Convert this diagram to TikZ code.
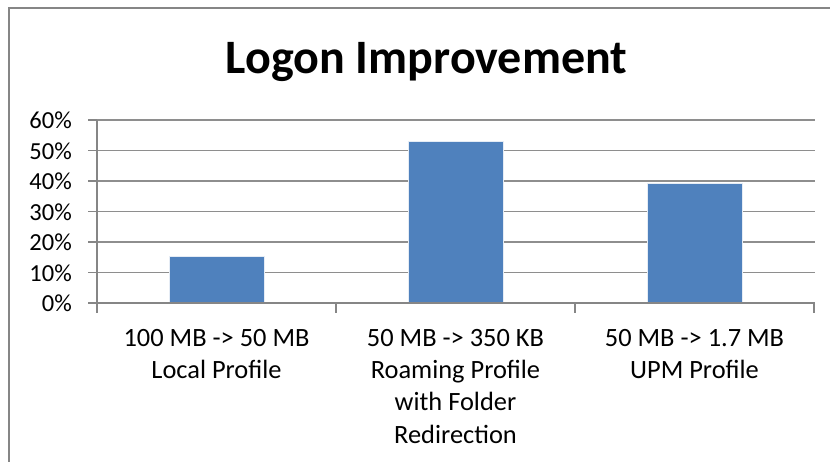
\documentclass[tikz,border=0pt]{standalone}
\usepackage{fontspec}
\setmainfont{Carlito}
\definecolor{framegray}{HTML}{868686}
\definecolor{gridgray}{HTML}{8E8E8E}
\definecolor{barblue}{HTML}{4F81BD}
\begin{document}
\begin{tikzpicture}[x=1pt,y=-1pt,
  ticklabel/.style={anchor=base east,inner sep=0pt,font=\fontsize{24.5}{29}\selectfont},
  catlabel/.style={anchor=north,inner sep=0pt,align=center,font=\fontsize{26.4}{32.3}\selectfont},
  gridline/.style={draw=gridgray,line width=1.4pt},
  axisline/.style={draw=framegray,line width=1.4pt},
  barstyle/.style={fill=barblue,draw=white!85!barblue,line width=0.6pt}]
\useasboundingbox (0,0) rectangle (830,462);
% outer frame
\draw[framegray,line width=2pt] (9,8) rectangle (860,490);
% title
\node[anchor=base,inner sep=0pt,font=\fontsize{48}{54}\selectfont\bfseries] (title) at (426.5,74) {Logon Improvement};
% grid and tick labels
\foreach \v/\n in {10/a,20/b,30/c,40/d,50/e,60/f}{
  \coordinate (gl\n) at (97,{303-3.05*\v});
  \coordinate (gr\n) at (815,{303-3.05*\v});
  \draw[gridline] (gl\n) -- (gr\n);
}
\foreach \v in {0,10,20,30,40,50,60}{
  \coordinate (tk\v) at (88,{303-3.05*\v});
  \coordinate (ax\v) at (97,{303-3.05*\v});
  \draw[axisline] (tk\v) -- (ax\v);
  \node[ticklabel] (lab\v) at (72,{303-3.05*\v+8.8}) {\v\%};
}
% bars
\fill[barstyle] (169,303) rectangle (264,{303-3.05*15.2});
\fill[barstyle] (408,303) rectangle (503,{303-3.05*53.1});
\fill[barstyle] (647,303) rectangle (742,{303-3.05*39.1});
% axes
\coordinate (o) at (97,303);
\coordinate (top) at (97,120);
\coordinate (xr) at (815,303);
\draw[axisline] (o) -- (top);
\draw[axisline] (o) -- (xr);
\foreach \x/\n in {97/a,336/b,575/c,814/d}{
  \coordinate (ct\n) at (\x,303);
  \coordinate (cb\n) at (\x,313);
  \draw[axisline] (ct\n) -- (cb\n);
}
% category labels
\node[catlabel] (c1) at (216.5,329) {100 MB -> 50 MB\\Local Profile};
\node[catlabel] (c2) at (455.5,329) {50 MB -> 350 KB\\Roaming Profile\\with Folder\\Redirection};
\node[catlabel] (c3) at (694.5,329) {50 MB -> 1.7 MB\\UPM Profile};
\end{tikzpicture}
\end{document}
